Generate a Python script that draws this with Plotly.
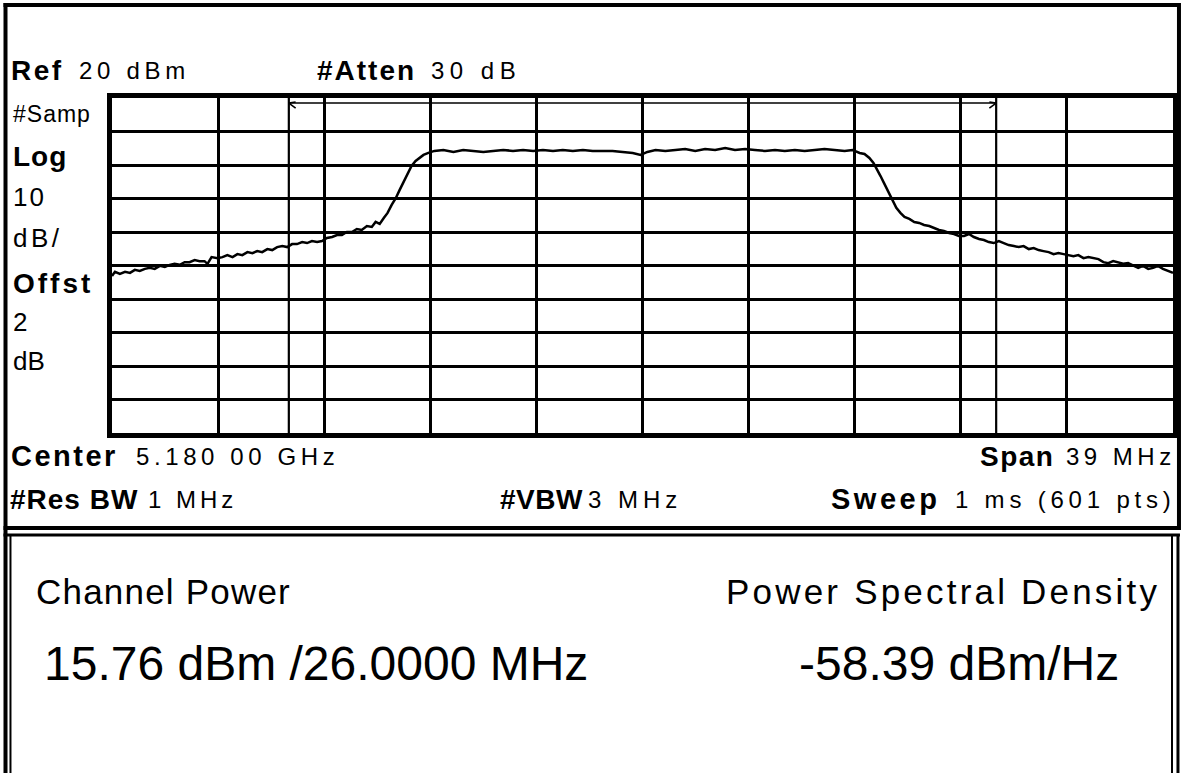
import plotly.graph_objects as go

# ---- data ----
freq_mhz = [5160.50, 5160.61, 5160.79, 5160.98, 5161.16, 5161.34, 5161.52, 5161.71, 5161.89, 5162.07,
            5162.26, 5162.44, 5162.62, 5162.80, 5162.99, 5163.17, 5163.35, 5163.54, 5163.72, 5163.90,
            5164.01, 5164.16, 5164.38, 5164.56, 5164.74, 5164.93, 5165.11, 5165.29, 5165.48, 5165.66,
            5165.84, 5166.02, 5166.21, 5166.39, 5166.57, 5166.76, 5166.94, 5167.12, 5167.30, 5167.49,
            5167.67, 5167.85, 5168.04, 5168.22, 5168.40, 5168.59, 5168.77, 5168.95, 5169.13, 5169.32,
            5169.50, 5169.68, 5169.87, 5170.05, 5170.19, 5170.34, 5170.49, 5170.63, 5170.78, 5170.93,
            5171.07, 5171.22, 5171.37, 5171.51, 5171.66, 5171.80, 5171.95, 5172.13, 5172.35,
            5172.68, 5173.05, 5173.41, 5173.78, 5174.15, 5174.51, 5174.88, 5175.24, 5175.61, 5175.98,
            5176.34, 5176.71, 5177.07, 5177.44, 5177.81, 5178.17, 5178.54, 5178.90, 5179.27, 5179.64,
            5179.93, 5180.18, 5180.48, 5180.84, 5181.21, 5181.57, 5181.94, 5182.30, 5182.67, 5183.04,
            5183.40, 5183.77, 5184.13, 5184.50, 5184.87, 5185.23, 5185.60, 5185.96, 5186.33, 5186.69,
            5187.06, 5187.43, 5187.72,
            5187.98, 5188.16, 5188.34, 5188.49, 5188.60, 5188.75, 5188.86, 5188.97, 5189.08, 5189.22,
            5189.33, 5189.48, 5189.63, 5189.81, 5189.99, 5190.17, 5190.35, 5190.54, 5190.72, 5190.90,
            5191.08, 5191.27, 5191.45, 5191.63, 5191.82, 5192.00, 5192.18, 5192.37, 5192.55, 5192.73,
            5192.91, 5193.10, 5193.28, 5193.46, 5193.65, 5193.83, 5194.01, 5194.20, 5194.38, 5194.56,
            5194.74, 5194.93, 5195.11, 5195.29, 5195.48, 5195.66, 5195.84, 5196.02, 5196.21, 5196.39,
            5196.57, 5196.76, 5196.94, 5197.12, 5197.30, 5197.49, 5197.67, 5197.85, 5198.04, 5198.22,
            5198.40, 5198.59, 5198.77, 5198.95, 5199.13, 5199.32, 5199.50]

level_dbm = [-33.1, -31.9, -32.5, -31.9, -32.2, -31.3, -31.6, -31.0, -30.7, -31.0,
             -30.1, -30.4, -29.8, -29.5, -29.8, -29.0, -29.0, -28.4, -28.7, -28.7,
             -29.5, -27.5, -27.8, -27.5, -26.9, -27.5, -26.6, -26.9, -26.0, -26.3,
             -25.7, -26.0, -25.1, -25.4, -24.5, -24.2, -24.5, -23.6, -23.6, -23.0,
             -23.3, -22.7, -23.0, -22.7, -21.8, -21.5, -20.9, -20.9, -20.0, -20.0,
             -19.1, -19.4, -18.2, -18.5, -17.0, -17.6, -15.8, -14.3, -11.9, -9.9,
             -7.5, -5.1, -2.7, -0.3, 1.2, 2.1, 3.0, 3.6, 4.2,
             4.5, 3.9, 4.5, 4.2, 3.9, 4.2, 4.5, 4.2, 4.5, 4.2,
             4.5, 4.2, 4.5, 4.2, 4.5, 4.2, 4.2, 4.2, 3.9, 3.6,
             3.0, 3.9, 4.5, 4.2, 4.5, 4.8, 4.2, 4.8, 4.5, 5.1,
             4.5, 4.8, 4.5, 4.2, 4.5, 4.2, 4.5, 4.2, 4.5, 4.8,
             4.5, 4.2, 4.5,
             3.6, 3.3, 2.1, 0.6, -0.9, -3.3, -5.1, -6.9, -9.0, -11.3,
             -12.8, -14.3, -15.5, -16.1, -17.0, -17.3, -17.9, -18.2, -18.8, -19.4,
             -19.7, -20.3, -20.6, -21.2, -21.2, -20.6, -21.5, -22.1, -22.4, -23.0,
             -23.3, -22.7, -23.3, -23.9, -24.2, -24.5, -24.2, -25.1, -24.8, -25.4,
             -25.7, -26.0, -26.6, -26.3, -26.6, -26.9, -27.2, -26.9, -27.8, -27.5,
             -27.8, -28.1, -29.0, -29.3, -28.7, -29.0, -29.5, -29.3, -30.1, -30.7,
             -30.1, -31.0, -30.7, -30.1, -31.0, -31.6, -32.2]

center_mhz = 5180.0
span_mhz = 39.0
ref_dbm = 20.0
db_per_div = 10.0
channel_bw_mhz = 26.0

header_texts = [("Ref", "20 dBm"), ("#Atten", "30 dB")]
side_labels = ["#Samp", "Log", "10", "dB/", "Offst", "2", "dB"]
footer_texts = [("Center", "5.180 00 GHz"), ("Span", "39 MHz"), ("#Res BW", "1 MHz"),
                ("#VBW", "3 MHz"), ("Sweep", "1 ms (601 pts)")]
result_titles = ["Channel Power", "Power Spectral Density"]
result_values = ["15.76 dBm /26.0000 MHz", "-58.39 dBm/Hz"]

# ---- layout geometry (pixels) ----
W, H = 1187, 773
PL, PR, PT, PB = 112, 1178, 98, 433
FONT = "Liberation Sans, Arial, sans-serif"


def px(x):
    return (x - PL) / (PR - PL)


def py(y):
    return (PB - y) / (PB - PT)


x0 = center_mhz - span_mhz / 2
x1 = center_mhz + span_mhz / 2
y1 = ref_dbm
y0 = ref_dbm - 10 * db_per_div

fig = go.Figure()
fig.add_trace(go.Scatter(x=freq_mhz, y=level_dbm, mode="lines",
                         line=dict(color="black", width=2.5), showlegend=False,
                         hoverinfo="skip"))

ch_lo = center_mhz - channel_bw_mhz / 2
ch_hi = center_mhz + channel_bw_mhz / 2
for xv in (ch_lo, ch_hi):
    fig.add_trace(go.Scatter(x=[xv, xv], y=[y0, y1], mode="lines",
                             line=dict(color="black", width=2.2), showlegend=False,
                             hoverinfo="skip"))
bar_y = ref_dbm - 1.5
fig.add_trace(go.Scatter(x=[ch_lo, ch_hi], y=[bar_y, bar_y], mode="lines",
                         line=dict(color="black", width=1.6), showlegend=False,
                         hoverinfo="skip"))
fig.add_trace(go.Scatter(x=[ch_lo + 0.25, ch_lo, ch_lo + 0.25], y=[bar_y - 1.5, bar_y, bar_y + 0.3],
                         mode="lines", line=dict(color="black", width=1.6),
                         showlegend=False, hoverinfo="skip"))
fig.add_trace(go.Scatter(x=[ch_hi - 0.25, ch_hi, ch_hi - 0.25], y=[bar_y - 1.5, bar_y, bar_y + 0.3],
                         mode="lines", line=dict(color="black", width=1.6),
                         showlegend=False, hoverinfo="skip"))

shapes = []


def line_px(xa, ya, xb, yb, w):
    shapes.append(dict(type="line", xref="paper", yref="paper",
                       x0=px(xa), y0=py(ya), x1=px(xb), y1=py(yb),
                       line=dict(color="black", width=w), layer="above"))


# frame of upper panel
line_px(3, 5, 1185, 5, 4)
line_px(5, 3, 5, 773, 4)
line_px(1184, 3, 1184, 530, 4)
line_px(3, 528, 1185, 528, 4)
# lower panel frame (double lines)
line_px(3, 535, 1185, 535, 3)
line_px(10, 535, 10, 773, 2)
line_px(1177, 535, 1177, 773, 2)
line_px(1183, 535, 1183, 773, 3)

ann = []


def text_px(x, y, s, size, bold=False, anchor="left", ls=0.0):
    content = s if ls == 0 else '<span style="letter-spacing:%.1fpx">%s</span>' % (ls, s)
    ann.append(dict(xref="paper", yref="paper", x=px(x), y=py(y), text=content,
                    showarrow=False, xanchor=anchor, yanchor="middle",
                    font=dict(family=FONT, size=size, color="black",
                              weight="bold" if bold else "normal")))


# header
text_px(9, 70, header_texts[0][0], 28, bold=True, ls=2.5)
text_px(77, 70, header_texts[0][1], 24, ls=4.7)
text_px(316, 70, header_texts[1][0], 28, bold=True, ls=2)
text_px(430, 70, header_texts[1][1], 24, ls=5.5)

# side labels
side_y = [114, 156, 197, 238, 283, 322, 361]
side_bold = [False, True, False, False, True, False, False]
side_size = [23, 28, 26, 26, 28, 26, 26]
side_ls = [1, 1, 2, 3.5, 3, 0, 0]
for lab, yy, b, sz, l in zip(side_labels, side_y, side_bold, side_size, side_ls):
    text_px(11, yy, lab, sz, bold=b, ls=l)

# footer rows
text_px(9, 456, footer_texts[0][0], 29, bold=True, ls=2.5)
text_px(134, 456, footer_texts[0][1], 24, ls=4.6)
text_px(982, 456, footer_texts[1][0], 28, bold=True, ls=1.5)
text_px(1068, 456, footer_texts[1][1], 24, ls=4.5)
text_px(8, 499, footer_texts[2][0], 28, bold=True, ls=1)
text_px(146, 499, footer_texts[2][1], 24, ls=4)
text_px(500, 499, footer_texts[3][0], 28, bold=True, ls=0.5)
text_px(588, 499, footer_texts[3][1], 24, ls=5)
text_px(832, 499, footer_texts[4][0], 29, bold=True, ls=3.5)
text_px(957, 499, footer_texts[4][1], 24, ls=4.8)

# results
text_px(34, 591, result_titles[0], 35, ls=1.2)
text_px(727, 591, result_titles[1], 35, ls=3.2)
text_px(42, 663, result_values[0], 48)
text_px(800, 663, result_values[1], 48)

fig.update_layout(
    width=W, height=H,
    margin=dict(l=PL, r=W - PR, t=PT, b=H - PB, pad=0),
    paper_bgcolor="white", plot_bgcolor="white",
    shapes=shapes, annotations=ann,
    xaxis=dict(range=[x0, x1], tick0=x0, dtick=span_mhz / 10, showgrid=True,
               gridcolor="black", gridwidth=2.8, showticklabels=False, ticks="",
               zeroline=False, showline=True, linecolor="black", linewidth=4.5, mirror=True),
    yaxis=dict(range=[y0, y1], tick0=y0, dtick=db_per_div, showgrid=True,
               gridcolor="black", gridwidth=2.8, showticklabels=False, ticks="",
               zeroline=False, showline=True, linecolor="black", linewidth=4.5, mirror=True),
)

fig.write_html("out.html", config={"displayModeBar": False},
               post_script="document.body.style.margin='0';")
